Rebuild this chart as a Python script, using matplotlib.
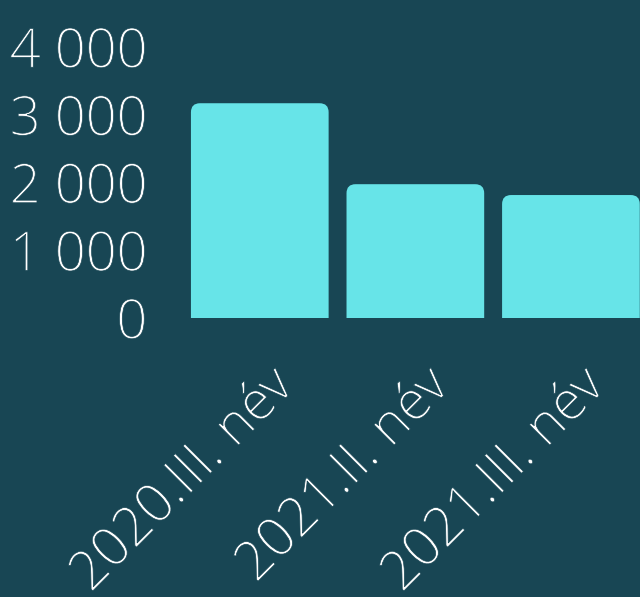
import matplotlib
matplotlib.use("Agg")
import matplotlib.pyplot as plt
import matplotlib.patheffects as pe
from matplotlib import font_manager
from matplotlib.patches import FancyBboxPatch
from matplotlib.ticker import FuncFormatter

categories = ["2020.III. név", "2021.II. név", "2021.III. név"]
values = [3170, 1975, 1815]
yticks = [0, 1000, 2000, 3000, 4000]

bg = "#184654"
bar_color = "#67E4E8"

plt.rcParams['font.family'] = ['Open Sans', 'DejaVu Sans']

# use the lightest Open Sans face that is installed
weight = 'light'
open_sans = [f for f in font_manager.fontManager.ttflist if f.name == 'Open Sans' and f.style == 'normal']
if open_sans:
    weight = min(f.weight if isinstance(f.weight, int) else 400 for f in open_sans)

fig = plt.figure(figsize=(6.4, 5.97), dpi=100, facecolor=bg)
ax = fig.add_axes([182/640, 1-318/597, 1-182/640, (318-47)/597])
ax.set_facecolor(bg)
ax.set_xlim(-0.5, 2.444)
ax.set_ylim(0, 4000)

# rounded top corners: box extends below 0 and gets clipped by the axes
width = 0.885
r_px = 9
px_x = 155.5 / 1.0
px_y = (318 - 47) / 4000
r = r_px / px_x
aspect = (r_px / px_y) / r
for i, v in enumerate(values):
    p = FancyBboxPatch((i - width/2, -500), width, v + 500,
                       boxstyle="round,pad=0,rounding_size=%f" % r,
                       mutation_aspect=aspect,
                       facecolor=bar_color, edgecolor="none")
    ax.add_patch(p)

# thin the glyphs a little (light look): background-coloured edge around white fill
thin = [pe.Stroke(linewidth=0.5, foreground=bg)]

ax.set_yticks(yticks)
ax.yaxis.set_major_formatter(FuncFormatter(lambda v, p: "{:,}".format(int(v)).replace(",", " ")))
for lab in ax.get_yticklabels():
    lab.set_fontsize(39)
    lab.set_fontweight(weight)
    lab.set_color('white')
    lab.set_path_effects(thin)

# category labels, rotated, under each bar
ax.set_xticks(range(len(categories)))
ax.set_xticklabels([])
for i, cat in enumerate(categories):
    ax.annotate(cat, xy=(i, 0), xycoords=('data', 'axes fraction'),
                xytext=(5, -30), textcoords='offset points',
                rotation=45, ha='right', va='top', rotation_mode='anchor',
                fontsize=39, fontweight=weight, color='white',
                path_effects=thin, annotation_clip=False)

ax.tick_params(axis='y', length=0, pad=25)
ax.tick_params(axis='x', length=0)
for s in ax.spines.values():
    s.set_visible(False)

fig.savefig("out.png", dpi=100, facecolor=bg)
